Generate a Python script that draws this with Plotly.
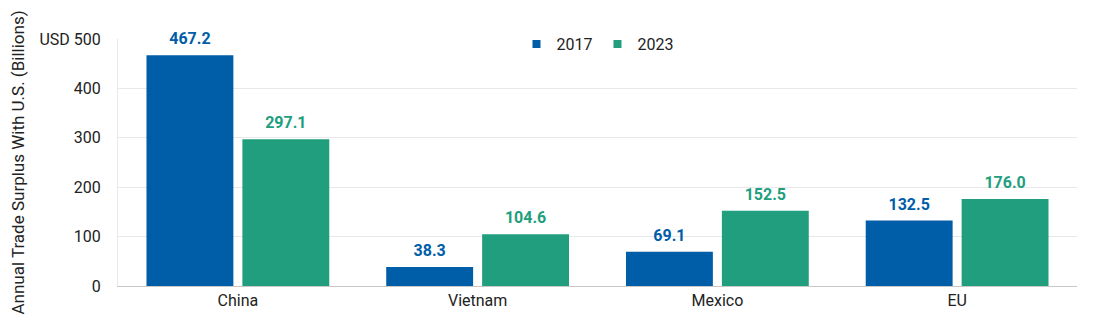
import plotly.graph_objects as go

categories = ["China", "Vietnam", "Mexico", "EU"]
values_2017 = [467.2, 38.3, 69.1, 132.5]
values_2023 = [297.1, 104.6, 152.5, 176.0]
tick_vals = [0, 100, 200, 300, 400, 500]
tick_text = ["0", "100", "200", "300", "400", "USD 500"]

BLUE = "#005DA8"
GREEN = "#219E7D"
FONT = "Roboto, Arial, sans-serif"
LABEL_PAD = 8  # extra space between bar top and value label (axis units)

fig = go.Figure()
for name, vals, col, grp in [("2017", values_2017, BLUE, "a"), ("2023", values_2023, GREEN, "b")]:
    # actual bars
    fig.add_trace(go.Bar(
        name=name, x=categories, y=vals, marker_color=col, marker_line_width=0,
        offsetgroup=grp, showlegend=False, hoverinfo="x+y",
    ))
    # transparent spacer carrying the value labels
    fig.add_trace(go.Bar(
        x=categories, y=[LABEL_PAD] * len(vals), base=vals,
        marker_color="rgba(0,0,0,0)", marker_line_width=0,
        offsetgroup=grp, showlegend=False, hoverinfo="skip",
        text=[f"{v:.1f}" for v in vals], textposition="outside",
        textfont=dict(color=col, size=16, family=FONT, weight="bold"),
        cliponaxis=False,
    ))
    # legend entry
    fig.add_trace(go.Scatter(
        name=name, x=[None], y=[None], mode="markers",
        marker=dict(symbol="square", size=8, color=col),
    ))

fig.update_layout(
    width=1100, height=326,
    margin=dict(l=118, r=23, t=39, b=40),
    paper_bgcolor="white", plot_bgcolor="white",
    barmode="group", bargap=0.2, bargroupgap=0.094,
    font=dict(family=FONT, size=16, color="#222222"),
    legend=dict(orientation="h", x=0.5, xanchor="center", y=1.048, yanchor="top",
                font=dict(size=16), itemwidth=30, bgcolor="rgba(0,0,0,0)"),
    showlegend=True,
)
fig.update_xaxes(showline=True, linecolor="#c8c8c8", linewidth=1,
                 tickfont=dict(size=16), ticks="")
fig.update_yaxes(range=[0, 500], tickvals=tick_vals, ticktext=tick_text,
                 showgrid=True, gridcolor="#e8e8e8", zeroline=False,
                 showline=True, linecolor="#e8e8e8",
                 tickfont=dict(size=16), ticklabelstandoff=13,
                 title=dict(text="Annual Trade Surplus With U.S. (Billions)",
                            font=dict(size=17), standoff=10))

fig.write_html("out.html")
